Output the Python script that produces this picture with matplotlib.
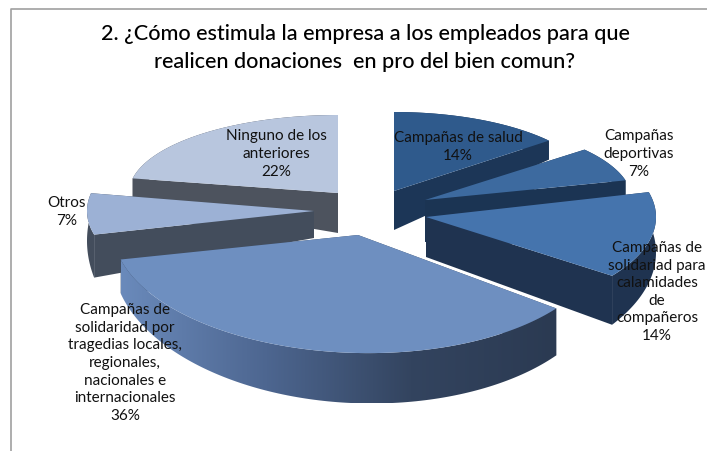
import numpy as np
import matplotlib
matplotlib.use('Agg')
import matplotlib.pyplot as plt
from matplotlib.colors import LinearSegmentedColormap
from matplotlib.patches import Polygon

title = "2. ¿Cómo estimula la empresa a los empleados para que\nrealicen donaciones  en pro del bien comun?"
labels = ["Campañas de salud", "Campañas\ndeportivas", "Campañas de\nsolidariad para\ncalamidades\nde\ncompañeros",
          "Campañas de\nsolidaridad por\ntragedias locales,\nregionales,\nnacionales e\ninternacionales", "Otros", "Ninguno de los\nanteriores"]
values = [14, 7, 14, 36, 7, 22]

# layout of the exploded slices, in pixels
apex_x = [394, 425, 426, 358, 314, 338]
apex_y = [191, 200, 217, 235, 211, 193]
rad_x = [201, 207, 230, 245, 227, 209]
rad_y = [79, 79, 100, 118, 95, 78]
tilt = [0, 0, 0, 5, 0, 0]
depth_apex = [39, 42, 40, 40, 27, 40]
depth_start = [19, 16, 30, 47, 43, 20]
depth_end = [19, 16, 49, 34, 20, 20]
bulge = [0, 0, 0, 9, 0, 0]
top_colors = ['#2f5a8c', '#3d6a9f', '#4574ad', '#6e8fc0', '#9cb1d5', '#b8c6de']
side_colors = ['#1c3657', '#1b3453', '#1f3350', '#3a4a62', '#434d5c', '#4d535e']
draw_order = [5, 0, 1, 4, 2, 3]

label_x = [458, 639, 657, 125, 67, 276]
label_y = [147, 154, 292, 363, 212, 154]

fig = plt.figure(figsize=(7.07, 4.51), dpi=100)
ax = fig.add_axes([0, 0, 1, 1])
ax.set_xlim(0, 707)
ax.set_ylim(451, 0)
ax.axis('off')

edges = np.cumsum([0] + values) / sum(values) * 2 * np.pi

for i in draw_order:
    t = np.linspace(edges[i], edges[i + 1], 120)
    f = np.linspace(0, 1, 120)
    cx, cy = apex_x[i], apex_y[i]
    x = cx + rad_x[i] * np.sin(t)
    y = cy - rad_y[i] * np.cos(t) + tilt[i] * np.sin(t)
    d = depth_start[i] + (depth_end[i] - depth_start[i]) * f + bulge[i] * np.sin(np.pi * f)

    rim = np.column_stack([np.r_[x, x[::-1]], np.r_[y, (y + d)[::-1]]])
    cut_a = [(cx, cy), (x[0], y[0]), (x[0], y[0] + d[0]), (cx, cy + depth_apex[i])]
    cut_b = [(cx, cy), (x[-1], y[-1]), (x[-1], y[-1] + d[-1]), (cx, cy + depth_apex[i])]
    ax.add_patch(Polygon(cut_a, fc=side_colors[i], ec='none'))
    ax.add_patch(Polygon(cut_b, fc=side_colors[i], ec='none'))
    if i == 3:
        # outer wall of the big slice fades from blue to dark
        shade = LinearSegmentedColormap.from_list('wall', ['#6a8abb', '#4d6690', '#33445f', '#2b3a52'])
        wall = Polygon(rim, fc='none', ec='none')
        ax.add_patch(wall)
        grad = np.linspace(0, 1, 256).reshape(1, -1)
        im = ax.imshow(grad, extent=[x.min(), x.max(), (y + d).max(), y.min()], cmap=shade, aspect='auto', zorder=1)
        im.set_clip_path(wall)
        ax.set_xlim(0, 707)
        ax.set_ylim(451, 0)
    else:
        ax.add_patch(Polygon(rim, fc=side_colors[i], ec='none'))
    top = np.column_stack([np.r_[cx, x], np.r_[cy, y]])
    ax.add_patch(Polygon(top, fc=top_colors[i], ec='none', zorder=2 if i == 3 else 1))

for i in range(len(values)):
    ax.text(label_x[i], label_y[i], f"{labels[i]}\n{values[i]}%", ha='center', va='center', fontsize=11,
            family='Lato', color='#111111', linespacing=1.33, zorder=5)

ax.text(365, 47.5, title, ha='center', va='center', fontsize=15.6, family='Lato', fontweight='medium',
        color='#000000', linespacing=1.5)

ax.plot([11, 11, 707], [451, 9, 9], color='#a0a0a0', lw=1.2, zorder=6, clip_on=False)

fig.savefig('out.png', dpi=100)
